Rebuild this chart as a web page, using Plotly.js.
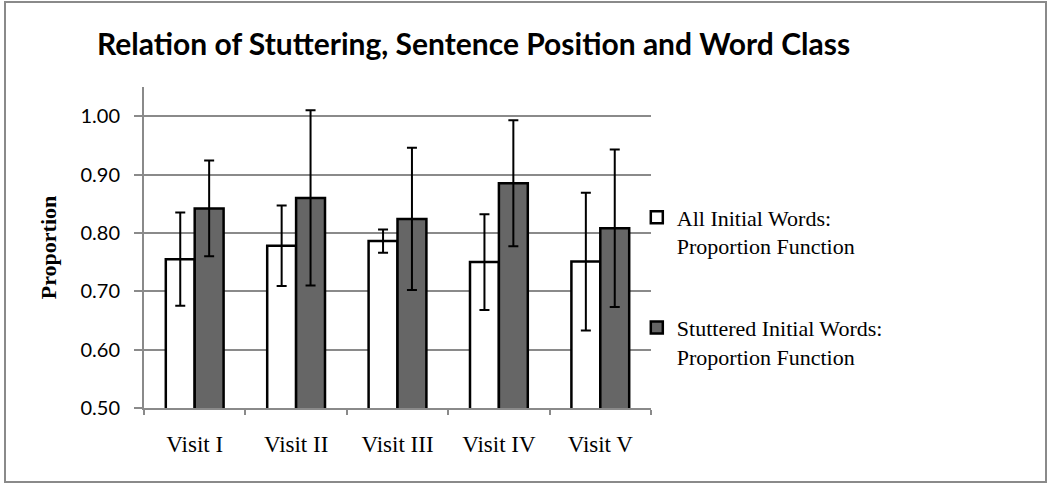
<!DOCTYPE html>
<html>
<head>
<meta charset="utf-8">
<script src="https://cdn.plot.ly/plotly-3.0.1.min.js"></script>
<style>
  html, body { margin: 0; padding: 0; background: #fff; }
  #wrap { position: relative; width: 1050px; height: 488px; }
  #chart { position: absolute; left: 0; top: 0; width: 1050px; height: 488px; }
  #frame {
    position: absolute; left: 4px; top: 1px; width: 1039px; height: 478px;
    border: 2px solid #8a8a8a; pointer-events: none;
  }
</style>
</head>
<body>
<div id="wrap">
  <div id="chart"></div>
  <div id="frame"></div>
</div>
<script>
// categories
const visits = ["Visit I", "Visit II", "Visit III", "Visit IV", "Visit V"];

// series names
const allName = "All Initial Words:<br>Proportion Function";
const stutName = "Stuttered Initial Words:<br>Proportion Function";

// means
const allValues = [0.755, 0.778, 0.786, 0.750, 0.751];
const stutValues = [0.842, 0.860, 0.824, 0.885, 0.808];

// error bar half-lengths
const allErrors = [0.080, 0.069, 0.020, 0.082, 0.118];
const stutErrors = [0.082, 0.150, 0.122, 0.108, 0.135];

// y axis ticks
const yTickVals = [0.5, 0.6, 0.7, 0.8, 0.9, 1.0];
const yTickText = ["0.50", "0.60", "0.70", "0.80", "0.90", "1.00"];

const axisGrey = "#8a8a8a";
const serif = "Liberation Serif, Times New Roman, serif";
const sans = "Lato, sans-serif";

let allTrace = {
  x: visits,
  y: allValues,
  type: "bar",
  name: allName,
  legendgroup: "all",
  marker: { color: "#ffffff", line: { color: "#000000", width: 2.5 } },
  error_y: {
    type: "data",
    array: allErrors,
    visible: true,
    color: "#000000",
    thickness: 2,
    width: 5
  }
};

let stutTrace = {
  x: visits,
  y: stutValues,
  type: "bar",
  name: stutName,
  legendgroup: "stut",
  marker: { color: "#666666", line: { color: "#000000", width: 2.5 } },
  error_y: {
    type: "data",
    array: stutErrors,
    visible: true,
    color: "#000000",
    thickness: 2,
    width: 5
  }
};

let layout = {
  width: 1050,
  height: 488,
  margin: { l: 144, r: 399, t: 87, b: 80 },
  paper_bgcolor: "#ffffff",
  plot_bgcolor: "#ffffff",
  barmode: "group",
  bargap: 0.43,
  bargroupgap: 0,
  title: {
    text: "Relation of Stuttering, Sentence Position and Word Class",
    font: { family: sans, size: 30, color: "#000000", weight: 700 },
    xref: "container",
    yref: "container",
    x: 97 / 1050,
    xanchor: "left",
    y: 1 - 44 / 488,
    yanchor: "middle"
  },
  xaxis: {
    type: "category",
    showline: true,
    linecolor: axisGrey,
    linewidth: 2,
    ticks: "outside",
    tickson: "boundaries",
    ticklen: 5,
    tickwidth: 2,
    tickcolor: axisGrey,
    showgrid: false,
    tickfont: { family: serif, size: 23, color: "#000000" },
    ticklabelstandoff: 14
  },
  yaxis: {
    range: [0.5, 1.05],
    tickvals: yTickVals,
    ticktext: yTickText,
    showline: true,
    linecolor: axisGrey,
    linewidth: 2,
    ticks: "outside",
    ticklen: 8,
    tickwidth: 2,
    tickcolor: axisGrey,
    showgrid: true,
    gridcolor: axisGrey,
    gridwidth: 2,
    zeroline: false,
    tickfont: { family: sans, size: 20, color: "#000000" },
    ticklabelstandoff: 10,
    title: {
      text: "Proportion",
      font: { family: serif, size: 22, color: "#000000", weight: 700 },
      standoff: 18
    }
  },
  showlegend: true,
  legend: {
    x: 0.972,
    xanchor: "left",
    y: 0.659,
    yanchor: "top",
    traceorder: "grouped",
    tracegroupgap: 50,
    valign: "top",
    bgcolor: "rgba(0,0,0,0)",
    font: { family: serif, size: 22, color: "#000000" }
  }
};

Plotly.newPlot("chart", [allTrace, stutTrace], layout, { staticPlot: true });
</script>
</body>
</html>
